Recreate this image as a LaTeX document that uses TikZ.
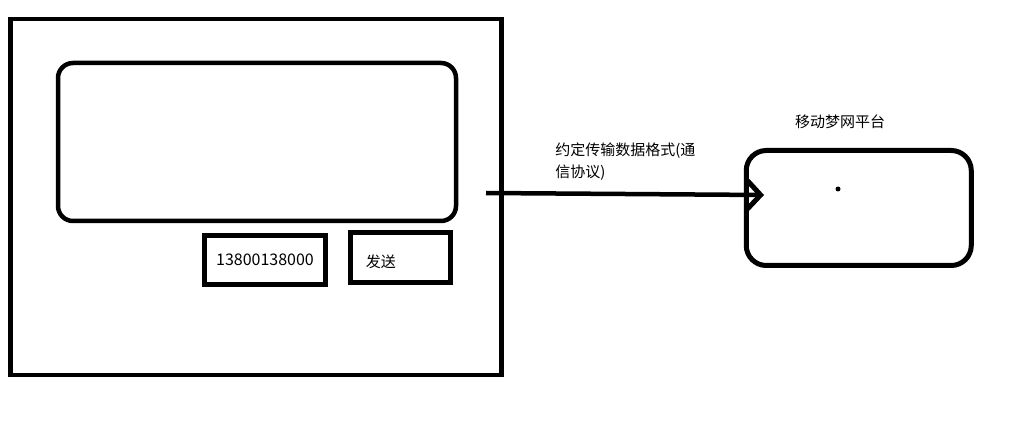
\documentclass[tikz,border=0pt]{standalone}
\usepackage{fontspec}
\setmainfont{Noto Sans CJK SC}
\usetikzlibrary{arrows.meta}
\begin{document}
\begin{tikzpicture}[x=1pt, y=-1pt, line width=4.5pt,
	frame/.style={draw, inner sep=0pt, outer sep=0pt},
	roundframe/.style={frame, rounded corners=#1},
	txt/.style={font=\fontsize{15pt}{22pt}\selectfont, inner sep=0pt}]
	\useasboundingbox (0,0) rectangle (1024,427);
	\node[frame, minimum width=491, minimum height=356]                   (phone)  at (256,197)   {};
	\node[roundframe=15pt, minimum width=398, minimum height=158]         (screen) at (257,142)   {};
	\node[frame, line width=5pt, minimum width=121, minimum height=49]    (number) at (265,260)   {};
	\node[frame, line width=5pt, minimum width=100, minimum height=50]    (send)   at (400.5,257.5) {};
	\node[txt, font=\fontsize{16pt}{22pt}\selectfont]                     (numtxt) at (number)    {13800138000};
	\node[txt, anchor=west]                                               (sendtxt) at ([xshift=13pt, yshift=-4pt]send.west) {发送};
	\node[roundframe=20pt, line width=5pt, minimum width=225, minimum height=115] (platform) at (858.75,208) {};
	\node[txt]                                                            (platname) at (840,122) {移动梦网平台};
	\node[circle, fill, inner sep=0pt, minimum size=5pt]                  (dot)    at (838,189)   {};
	%Protokoll
	\node[txt, align=left, anchor=west]                                   (proto)  at (553,162)   {约定传输数据格式(通\\信协议)};
	\coordinate (src) at (486,193);
	\coordinate (dst) at (764,195);
	\draw[-{Straight Barb[length=13pt, width=28pt, line width=5pt]}] (src) -- (dst);
\end{tikzpicture}
\end{document}
